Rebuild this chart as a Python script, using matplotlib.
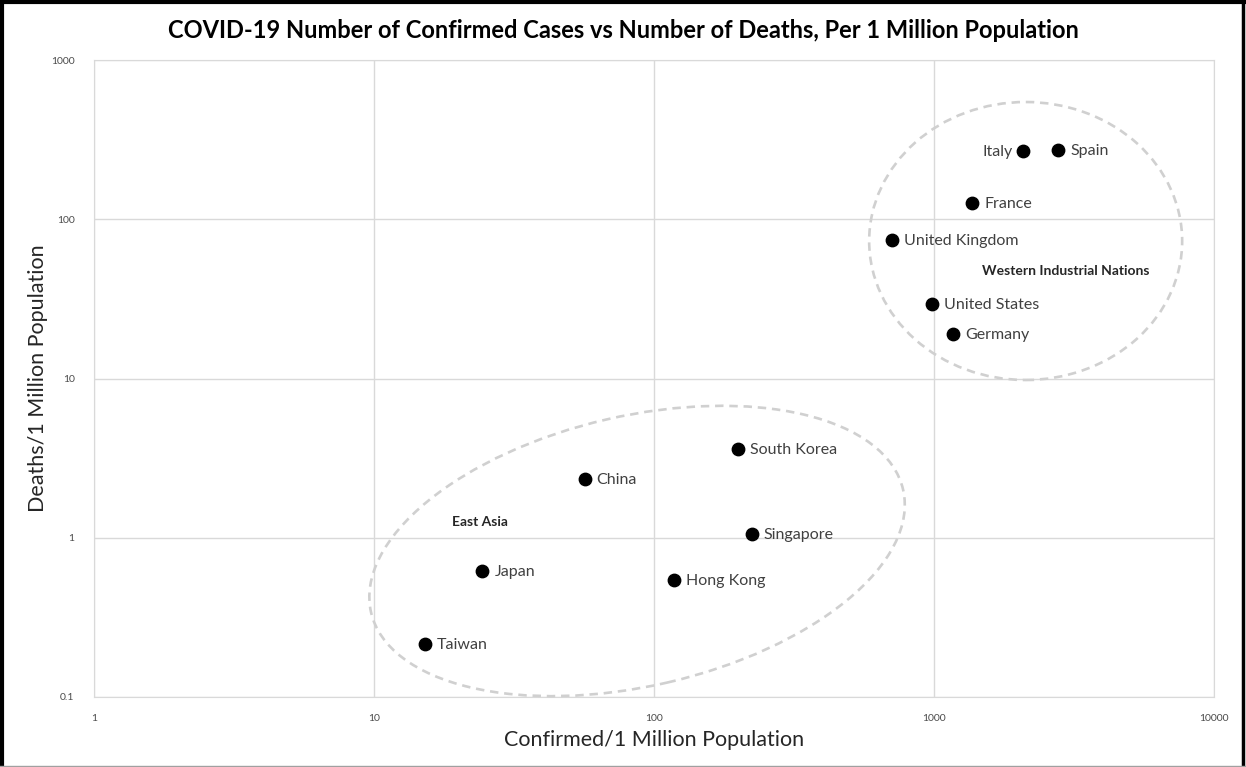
import numpy as np
import matplotlib.pyplot as plt
from matplotlib.patches import Ellipse
from matplotlib.transforms import IdentityTransform
from matplotlib.lines import Line2D

# cases and deaths per 1 million population
countries = ["Italy", "Spain", "France", "United Kingdom", "United States", "Germany",
             "South Korea", "China", "Singapore", "Japan", "Hong Kong", "Taiwan"]
confirmed = [2082, 2776, 1369, 710, 986, 1171, 199, 56.5, 223, 24.4, 118, 15.2]
deaths = [268, 272, 126, 74, 29.4, 19.0, 3.61, 2.34, 1.06, 0.62, 0.54, 0.215]

xticks = [1, 10, 100, 1000, 10000]
yticks = [0.1, 1, 10, 100, 1000]

plt.rcParams['font.family'] = ['Lato', 'DejaVu Sans']

fig = plt.figure(figsize=(12.46, 7.67), dpi=100)
ax = fig.add_axes([94/1246, 1 - 697/767, 1120/1246, 637/767])

ax.set_xscale('log')
ax.set_yscale('log')
ax.set_xlim(1, 10000)
ax.set_ylim(0.1, 1000)
ax.set_xticks(xticks)
ax.set_xticklabels([str(t) for t in xticks])
ax.set_yticks(yticks)
ax.set_yticklabels([str(t) for t in yticks])
ax.minorticks_off()
ax.tick_params(length=0, labelsize=7.5, colors='#4a4a4a', pad=12)
ax.tick_params(axis='y', pad=14)
ax.grid(True, color='#d9d9d9', lw=1)
ax.set_axisbelow(True)
for s in ax.spines.values():
    s.set_color('#d9d9d9')

ax.scatter(confirmed, deaths, s=80, color='black', zorder=3)

for name, x, y in zip(countries, confirmed, deaths):
    if name == "Italy":
        ax.annotate(name, (x, y), xytext=(-10, -1), textcoords='offset pixels',
                    ha='right', va='center', fontsize=11.5, color='#404040')
    else:
        ax.annotate(name, (x, y), xytext=(12, -1), textcoords='offset pixels',
                    ha='left', va='center', fontsize=11.5, color='#404040')

# group outlines, sized in pixels around a data-space centre
fig.canvas.draw()
groups = [((2125, 73), 313, 278, 0), ((87, 0.826), 546, 270, 13)]
for centre, w, h, ang in groups:
    cx, cy = ax.transData.transform(centre)
    e = Ellipse((cx, cy), w, h, angle=ang, transform=IdentityTransform(),
                fill=False, ec='#d0d0d0', lw=1.9, ls=(0, (3.2, 2.2)), zorder=2)
    fig.add_artist(e)

ax.text(2965, 47, "Western Industrial Nations", fontsize=10, fontweight='bold',
        color='#262626', ha='center', va='center')
ax.text(23.8, 1.26, "East Asia", fontsize=10, fontweight='bold',
        color='#262626', ha='center', va='center')

ax.set_xlabel("Confirmed/1 Million Population", fontsize=15.5, color='#262626', labelpad=5)
ax.set_ylabel("Deaths/1 Million Population", fontsize=15.5, color='#262626', labelpad=2)
fig.text(0.5, 1 - 30/767, "COVID-19 Number of Confirmed Cases vs Number of Deaths, Per 1 Million Population",
         ha='center', va='center', fontsize=17, fontweight='bold', color='black')

# outer frame
fig.add_artist(Line2D([0.0016, 0.0016], [0, 1], transform=fig.transFigure, color='black', lw=3))
fig.add_artist(Line2D([0, 1], [0.998, 0.998], transform=fig.transFigure, color='black', lw=3))
fig.add_artist(Line2D([0.9976, 0.9976], [0, 1], transform=fig.transFigure, color='black', lw=2.5))
fig.add_artist(Line2D([0, 1], [0.0015, 0.0015], transform=fig.transFigure, color='#a0a0a0', lw=1))

fig.savefig("out.png", dpi=100)
